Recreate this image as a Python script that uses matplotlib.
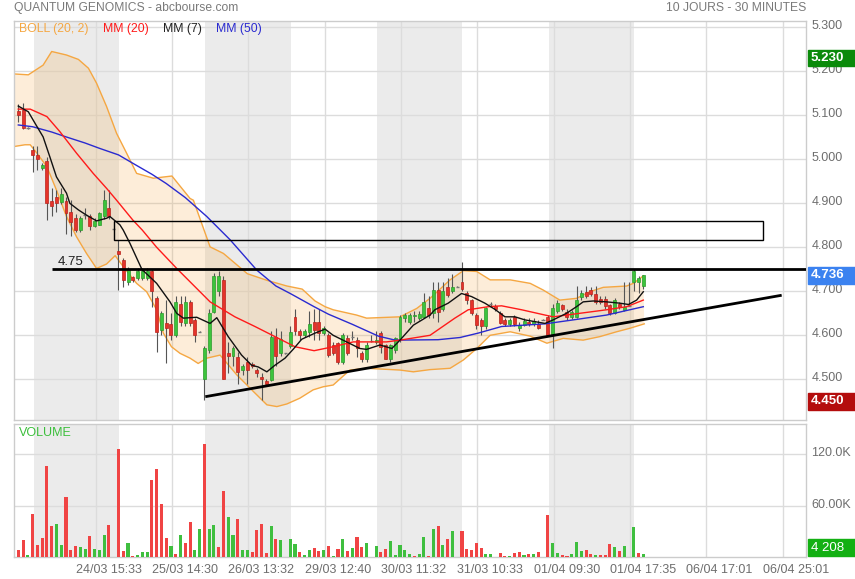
import numpy as np
import matplotlib
matplotlib.use("Agg")
import matplotlib.pyplot as plt
from matplotlib.patches import Rectangle
from matplotlib.transforms import blended_transform_factory, ScaledTranslation

plt.rcParams["font.family"] = ["Liberation Sans", "DejaVu Sans"]

# ---- 30 minute bars (oldest first) ----
opens = [5.110, 5.111, 5.070, 5.021, 5.010, 4.980, 4.996, 4.905, 4.914, 4.903,
         4.905, 4.881, 4.867, 4.839, 4.872, 4.870, 4.848, 4.851, 4.870, 4.889,
         4.842, 4.791, 4.770, 4.722, 4.732, 4.730, 4.731, 4.731, 4.745, 4.684,
         4.612, 4.627, 4.625, 4.600, 4.671, 4.627, 4.676, 4.635, 4.608, 4.500,
         4.566, 4.654, 4.700, 4.726, 4.560, 4.552, 4.550, 4.522, 4.540, 4.535,
         4.520, 4.505, 4.497, 4.498, 4.597, 4.559, 4.559, 4.576, 4.642, 4.610,
         4.600, 4.607, 4.630, 4.631, 4.605, 4.600, 4.578, 4.582, 4.540, 4.593,
         4.594, 4.590, 4.560, 4.545, 4.586, 4.585, 4.605, 4.578, 4.545, 4.566,
         4.590, 4.640, 4.630, 4.643, 4.640, 4.642, 4.662, 4.650, 4.703, 4.660,
         4.710, 4.700, 4.710, 4.722, 4.696, 4.680, 4.646, 4.635, 4.620, 4.668,
         4.667, 4.650, 4.635, 4.626, 4.642, 4.617, 4.624, 4.630, 4.626, 4.626,
         4.635, 4.642, 4.600, 4.656, 4.668, 4.654, 4.641, 4.642, 4.686, 4.699,
         4.704, 4.694, 4.682, 4.683, 4.669, 4.651, 4.671, 4.658, 4.667, 4.720,
         4.720, 4.712]
highs = [5.125, 5.127, 5.073, 5.030, 5.030, 4.992, 5.005, 4.935, 4.930, 4.935,
         4.914, 4.907, 4.875, 4.870, 4.890, 4.876, 4.866, 4.880, 4.930, 4.930,
         4.843, 4.817, 4.776, 4.755, 4.735, 4.752, 4.752, 4.752, 4.750, 4.690,
         4.655, 4.680, 4.650, 4.690, 4.690, 4.690, 4.680, 4.640, 4.609, 4.575,
         4.660, 4.741, 4.745, 4.735, 4.585, 4.575, 4.563, 4.535, 4.550, 4.540,
         4.525, 4.515, 4.500, 4.610, 4.617, 4.610, 4.560, 4.620, 4.660, 4.615,
         4.615, 4.655, 4.660, 4.660, 4.620, 4.605, 4.585, 4.585, 4.605, 4.600,
         4.610, 4.595, 4.565, 4.585, 4.600, 4.610, 4.610, 4.580, 4.580, 4.595,
         4.645, 4.650, 4.650, 4.655, 4.655, 4.695, 4.690, 4.720, 4.720, 4.720,
         4.730, 4.740, 4.711, 4.767, 4.700, 4.682, 4.650, 4.640, 4.665, 4.675,
         4.670, 4.655, 4.640, 4.640, 4.645, 4.630, 4.640, 4.640, 4.640, 4.635,
         4.636, 4.645, 4.670, 4.680, 4.672, 4.660, 4.658, 4.713, 4.703, 4.713,
         4.710, 4.713, 4.690, 4.690, 4.672, 4.685, 4.675, 4.722, 4.720, 4.750,
         4.735, 4.738]
lows = [5.085, 5.068, 5.068, 4.971, 4.976, 4.976, 4.862, 4.870, 4.880, 4.898,
        4.830, 4.825, 4.835, 4.835, 4.865, 4.840, 4.845, 4.850, 4.865, 4.865,
        4.841, 4.703, 4.710, 4.715, 4.720, 4.726, 4.725, 4.725, 4.665, 4.563,
        4.600, 4.536, 4.590, 4.595, 4.620, 4.620, 4.620, 4.585, 4.607, 4.452,
        4.560, 4.650, 4.690, 4.500, 4.514, 4.530, 4.490, 4.510, 4.490, 4.525,
        4.505, 4.453, 4.488, 4.495, 4.530, 4.552, 4.558, 4.570, 4.600, 4.590,
        4.595, 4.595, 4.590, 4.590, 4.600, 4.550, 4.555, 4.535, 4.535, 4.555,
        4.590, 4.550, 4.540, 4.540, 4.585, 4.580, 4.560, 4.545, 4.540, 4.560,
        4.585, 4.630, 4.625, 4.630, 4.635, 4.640, 4.640, 4.640, 4.630, 4.655,
        4.688, 4.695, 4.709, 4.700, 4.670, 4.645, 4.615, 4.600, 4.615, 4.665,
        4.655, 4.625, 4.620, 4.620, 4.620, 4.610, 4.620, 4.620, 4.620, 4.615,
        4.634, 4.600, 4.571, 4.650, 4.655, 4.635, 4.636, 4.640, 4.680, 4.685,
        4.690, 4.670, 4.672, 4.660, 4.645, 4.648, 4.660, 4.655, 4.666, 4.700,
        4.695, 4.705]
closes = [5.100, 5.071, 5.072, 5.010, 5.000, 4.987, 4.900, 4.894, 4.900, 4.921,
          4.878, 4.858, 4.839, 4.867, 4.874, 4.848, 4.860, 4.878, 4.907, 4.870,
          4.842, 4.785, 4.726, 4.750, 4.726, 4.747, 4.747, 4.747, 4.700, 4.608,
          4.650, 4.616, 4.600, 4.675, 4.631, 4.676, 4.627, 4.600, 4.608, 4.570,
          4.650, 4.735, 4.735, 4.500, 4.553, 4.570, 4.517, 4.531, 4.520, 4.530,
          4.515, 4.500, 4.490, 4.597, 4.552, 4.591, 4.559, 4.608, 4.610, 4.600,
          4.610, 4.626, 4.612, 4.605, 4.617, 4.555, 4.560, 4.540, 4.600, 4.559,
          4.596, 4.570, 4.545, 4.579, 4.586, 4.590, 4.573, 4.545, 4.578, 4.593,
          4.642, 4.646, 4.646, 4.646, 4.648, 4.676, 4.645, 4.703, 4.653, 4.700,
          4.692, 4.710, 4.710, 4.705, 4.680, 4.650, 4.624, 4.621, 4.661, 4.670,
          4.660, 4.629, 4.626, 4.635, 4.626, 4.624, 4.633, 4.626, 4.632, 4.617,
          4.635, 4.600, 4.661, 4.674, 4.660, 4.642, 4.654, 4.680, 4.695, 4.690,
          4.694, 4.675, 4.676, 4.667, 4.650, 4.680, 4.665, 4.665, 4.667, 4.745,
          4.730, 4.736]

# volume in thousands, with the colour of each bar (u = green, d = red)
volumes = [7.7, 20.0, 2.7, 50.6, 14.4, 22.5, 106.0, 35.8, 38.0, 13.6,
           70.5, 8.5, 12.4, 11.2, 8.9, 24.0, 8.9, 7.7, 25.3, 37.8,
           0.0, 125.5, 6.5, 16.7, 1.5, 2.7, 5.4, 5.4, 89.6, 102.5,
           62.3, 22.5, 12.8, 3.8, 26.0, 16.7, 40.9, 7.7, 32.3, 131.7,
           32.3, 36.8, 11.2, 76.7, 47.1, 25.3, 44.8, 8.5, 7.7, 6.2,
           31.1, 38.1, 4.6, 36.1, 21.4, 20.2, 0.0, 21.4, 15.5, 5.8,
           2.7, 7.7, 10.9, 6.5, 8.5, 13.2, 0.7, 9.3, 20.6, 6.9,
           10.5, 23.3, 11.2, 16.7, 0.0, 13.2, 5.8, 8.9, 18.6, 1.9,
           14.4, 8.1, 3.4, 1.2, 3.4, 22.9, 1.5, 33.1, 35.8, 13.6,
           21.4, 30.0, 0.0, 30.8, 9.3, 8.1, 15.9, 10.5, 3.8, 3.0,
           0.0, 4.2, 1.1, 0.8, 4.2, 6.2, 1.9, 3.0, 3.8, 5.4,
           0.0, 49.5, 15.9, 4.6, 1.9, 1.1, 3.0, 17.9, 7.0, 8.1,
           3.4, 2.7, 2.3, 2.3, 14.7, 11.6, 7.0, 12.8, 0.0, 34.6,
           4.6, 3.8]
vol_dir = ("dduddddduu" "ddduuduuud" "ddduduuudd" "ddududduud"
           "uudduuduud" "dddududuud" "uuddududud" "uddududduu"
           "uuuduududu" "dudddddduu" "ddduddudud" "dduudduuud"
           "dudddududu" "du")

# indicator lines, sampled along the curves (bar index, price)
mm7_x = [0, 2.1, 3.5, 5.2, 6.6, 8.0, 10.1, 10.8, 12.6, 14.3, 16.4, 18.5, 19.2, 21.3,
         22.0, 23.4, 25.9, 29.0, 31.8, 33.2, 34.6, 37.4, 40.2, 41.6, 44.0, 46.8,
         48.9, 50.3, 52.1, 53.8, 55.9, 57.6, 59.4, 62.2, 64.3, 66.0, 68.8, 71.6,
         73.0, 75.8, 78.3, 80.0, 82.8, 86.3, 87.3, 90.1, 92.9, 95.0, 97.8, 99.9,
         102.0, 104.1, 106.2, 108.3, 110.4, 112.1, 114.9, 117.0, 118.4, 120.5,
         123.3, 126.1, 127.9, 129.6, 131.0]
mm7_y = [5.121, 5.108, 5.082, 5.051, 5.006, 4.960, 4.923, 4.900, 4.885, 4.873, 4.860,
         4.866, 4.870, 4.851, 4.839, 4.809, 4.750, 4.718, 4.676, 4.650, 4.639, 4.641,
         4.627, 4.640, 4.597, 4.555, 4.532, 4.528, 4.517, 4.532, 4.548, 4.568, 4.591,
         4.605, 4.614, 4.600, 4.585, 4.570, 4.568, 4.578, 4.570, 4.589, 4.623, 4.646,
         4.658, 4.673, 4.695, 4.688, 4.673, 4.659, 4.642, 4.642, 4.635, 4.631, 4.627,
         4.635, 4.650, 4.665, 4.676, 4.678, 4.676, 4.673, 4.670, 4.680, 4.699]
mm20_x = [0, 2.5, 6.0, 8.7, 12.2, 15.7, 18.5, 20.6, 24.0, 26.0, 29.0, 33.2, 36.7,
          40.2, 45.4, 49.6, 53.8, 58.0, 62.0, 66.0, 70.2, 77.2, 80.0, 86.3, 91.5,
          94.3, 98.5, 101.3, 105.5, 110.4, 112.1, 116.3, 123.3, 127.5, 131.0]
mm20_y = [5.114, 5.114, 5.097, 5.063, 5.014, 4.968, 4.934, 4.907, 4.862, 4.839,
          4.800, 4.752, 4.714, 4.676, 4.642, 4.620, 4.597, 4.574, 4.565, 4.574,
          4.585, 4.585, 4.589, 4.600, 4.639, 4.658, 4.665, 4.667, 4.658, 4.646,
          4.642, 4.648, 4.658, 4.665, 4.680]
mm50_x = [0, 3, 7, 10, 14, 17, 21, 24, 28, 31, 35, 39.5, 44.4, 50, 54, 57, 62, 65,
          70, 75.5, 79, 88, 92.6, 96.4, 101.3, 110.4, 116.3, 123.3, 131]
mm50_y = [5.078, 5.074, 5.062, 5.051, 5.037, 5.025, 5.010, 4.991, 4.966, 4.945,
          4.913, 4.870, 4.817, 4.748, 4.712, 4.695, 4.665, 4.648, 4.625, 4.598,
          4.589, 4.590, 4.595, 4.605, 4.620, 4.626, 4.635, 4.646, 4.665]
boll_up_x = [-0.9, 2.1, 5.2, 7.0, 10.1, 12.6, 14.7, 16.4, 18.5, 20.6, 22.7, 24.8,
             28.3, 32.2, 36.0, 36.7, 40.2, 43.0, 48.0, 52.1, 56.3, 59.5, 62.2,
             64.3, 66.0, 70.9, 73.0, 80.0, 83.5, 86.3, 90.5, 93.3, 96.1, 98.9,
             103.1, 107.3, 110.0, 113.5, 117.0, 119.8, 122.6, 127.5, 128.9, 131.0]
boll_up_y = [5.194, 5.192, 5.214, 5.245, 5.237, 5.227, 5.207, 5.173, 5.120, 5.059,
             5.014, 4.968, 4.957, 4.962, 4.911, 4.907, 4.801, 4.786, 4.740, 4.725,
             4.712, 4.705, 4.678, 4.665, 4.658, 4.646, 4.639, 4.642, 4.661, 4.684,
             4.726, 4.747, 4.745, 4.726, 4.726, 4.718, 4.703, 4.680, 4.684, 4.699,
             4.709, 4.712, 4.718, 4.735]
boll_lo_x = [-0.9, 1.4, 2.5, 3.9, 6.0, 8.0, 10.1, 12.2, 14.3, 16.4, 18.5, 20.3,
             22.0, 24.8, 26.9, 29.0, 30.4, 32.1, 33.9, 36.0, 37.7, 39.5, 42.3,
             45.8, 49.3, 52.1, 54.2, 56.3, 59.0, 61.8, 63.9, 66.0, 69.5, 73.0,
             80.0, 82.8, 86.3, 90.5, 93.3, 96.1, 98.9, 103.1, 107.3, 110.8, 114.2,
             118.4, 121.9, 125.4, 128.2, 131.2]
boll_lo_y = [5.029, 5.033, 5.033, 5.014, 4.983, 4.930, 4.870, 4.824, 4.786, 4.752,
             4.762, 4.781, 4.756, 4.718, 4.699, 4.658, 4.605, 4.574, 4.559, 4.548,
             4.536, 4.548, 4.555, 4.510, 4.472, 4.442, 4.438, 4.444, 4.457, 4.476,
             4.483, 4.487, 4.521, 4.525, 4.521, 4.517, 4.522, 4.525, 4.544, 4.570,
             4.600, 4.608, 4.598, 4.582, 4.593, 4.589, 4.597, 4.608, 4.616, 4.626]

x_labels = ["24/03 15:33", "25/03 14:30", "26/03 13:32", "29/03 12:40", "30/03 11:32",
            "31/03 10:33", "01/04 09:30", "01/04 17:35", "06/04 17:01", "06/04 25:01"]
price_ticks = [4.5, 4.6, 4.7, 4.8, 4.9, 5.0, 5.1, 5.2, 5.3]
vol_ticks = [60, 120]
vol_tick_labels = ["60.00K", "120.0K"]

# drawn objects: resistance 4.75, zone box, rising support line
resistance = 4.75
zone_x = (20.1, 156.1)
zone_y = (4.816, 4.8605)
support_x = [39.2, 160.0]
support_y = [4.4605, 4.691]
last_price, day_high, day_low, last_vol = 4.736, 5.230, 4.450, 4208

# ---- layout ----
W, H = 855, 579
fig = plt.figure(figsize=(W / 100, H / 100), dpi=100)


def px_axes(left, top, right, bottom, **kw):
    return fig.add_axes([left / W, 1 - bottom / H, (right - left) / W, (bottom - top) / H], **kw)


ax = px_axes(14, 21, 806, 420)
axv = px_axes(14, 424, 806, 557, sharex=ax)

GRID = "#dcdcdc"
DAYBAND = "#ebebeb"
TXT = "#6e6e6e"

n = len(opens)
idx = np.arange(n)
xmin, xmax = -0.9, 165.1
for a in (ax, axv):
    a.set_xlim(xmin, xmax)
    for s in a.spines.values():
        s.set_color("#cccccc")
        s.set_linewidth(1)
    # alternate day shading
    for start in np.arange(3.2, 120, 36.0):
        a.axvspan(start, start + 17.9, color=DAYBAND, lw=0, zorder=0)
    for gx in 16.2 + 16.0 * np.arange(len(x_labels)):
        a.axvline(gx, color=GRID, lw=1, zorder=0.5)

# ---- price panel ----
ax.set_ylim(4.4075, 5.3143)
for p in price_ticks:
    ax.axhline(p, color=GRID, lw=1, zorder=0.5)
ax.yaxis.tick_right()
ax.set_yticks(price_ticks)
ax.set_yticklabels([f"{p:.3f}" for p in price_ticks])
ax.tick_params(axis="y", length=0, pad=4, labelsize=9, labelcolor=TXT)
ax.tick_params(axis="x", length=0, labelbottom=False)
for lab in ax.get_yticklabels():
    lab.set_transform(lab.get_transform() + ScaledTranslation(0, 3 / 100, fig.dpi_scale_trans))

# bollinger envelope
poly_x = boll_up_x + boll_lo_x[::-1]
poly_y = boll_up_y + boll_lo_y[::-1]
ax.fill(poly_x, poly_y, color="#f5a742", alpha=0.2, lw=0, zorder=1)
ax.plot(boll_up_x, boll_up_y, color="#f5a742", lw=1, zorder=2)
ax.plot(boll_lo_x, boll_lo_y, color="#f5a742", lw=1, zorder=2)

# candles
o, h, l, c = (np.array(v) for v in (opens, highs, lows, closes))
ax.vlines(idx, l, h, color="#555555", lw=0.8, zorder=3)
body_lo = np.minimum(o, c)
body_h = np.abs(c - o)
doji = body_h < 0.002
up = (c > o) & ~doji
down = (c < o) & ~doji
ax.bar(idx[up], body_h[up], bottom=body_lo[up], width=0.62,
       color="#3cc43c", edgecolor="#2c9a2c", lw=0.5, zorder=4)
ax.bar(idx[down], body_h[down], bottom=body_lo[down], width=0.62,
       color="#e5332a", edgecolor="#b8231c", lw=0.5, zorder=4)
ax.hlines(c[doji], idx[doji] - 0.35, idx[doji] + 0.35, color="#777777", lw=1, zorder=4)

# moving averages
ax.plot(mm50_x, mm50_y, color="#2a2ad0", lw=1, zorder=5)
ax.plot(mm20_x, mm20_y, color="#ff1a1a", lw=1, zorder=5)
ax.plot(mm7_x, mm7_y, color="#111111", lw=1, zorder=5)

# drawings
ax.hlines(resistance, 7.1, xmax, color="black", lw=2, zorder=6)
ax.text(8.2, resistance + 0.004, f"{resistance:.2f}", fontsize=9.5, color="#222222",
        ha="left", va="bottom", zorder=6)
ax.add_patch(Rectangle((zone_x[0], zone_y[0]), zone_x[1] - zone_x[0], zone_y[1] - zone_y[0],
                       fill=False, ec="black", lw=1, zorder=6))
ax.plot(support_x, support_y, color="black", lw=2, zorder=6, solid_capstyle="butt")

# legend text
legend = [("BOLL (20, 2)", "#f5a742", 19), ("MM (20)", "#ff1a1a", 103),
          ("MM (7)", "#222222", 163), ("MM (50)", "#2a2ad0", 216)]
for label, col, xp in legend:
    fig.text(xp / W, 1 - 29 / H, label, color=col, fontsize=8.8, va="center", ha="left")

# price flags on the right
tr = blended_transform_factory(fig.transFigure, ax.transData)
h_box = 16.7 / 440.0
for val, col in ((day_high, "#0a8a0a"), (last_price, "#3b82f0"), (day_low, "#b40d0d")):
    ax.add_patch(Rectangle((808 / W, val - h_box / 2), 47 / W, h_box, transform=tr,
                           color=col, clip_on=False, zorder=10))
    ax.text(811 / W, val, f"{val:.3f}", transform=tr, color="white", fontsize=9.5,
            fontweight="bold", va="center", ha="left", clip_on=False, zorder=11)

# ---- volume panel ----
vol = np.array(volumes)
vcol = ["#3fbf3f" if d == "u" else "#f04444" for d in vol_dir]
axv.bar(idx, vol, width=0.65, color=vcol, lw=0, zorder=3)
axv.set_ylim(0, 155.2)
for v in vol_ticks:
    axv.axhline(v, color=GRID, lw=1, zorder=0.5)
axv.yaxis.tick_right()
axv.set_yticks(vol_ticks)
axv.set_yticklabels(vol_tick_labels)
axv.tick_params(axis="y", length=0, pad=4, labelsize=9, labelcolor=TXT)
for lab in axv.get_yticklabels():
    lab.set_transform(lab.get_transform() + ScaledTranslation(0, 2.5 / 100, fig.dpi_scale_trans))
axv.set_xticks(16.2 + 2.75 + 16.0 * np.arange(len(x_labels)))
axv.set_xticklabels(x_labels)
axv.tick_params(axis="x", length=0, pad=5, labelsize=9, labelcolor=TXT)
axv.text(0.006, 0.93, "VOLUME", transform=axv.transAxes, color="#3cbf3c", fontsize=9,
         va="center", ha="left")

trv = blended_transform_factory(fig.transFigure, axv.transData)
axv.add_patch(Rectangle((808 / W, 1.0), 47 / W, 19.6, transform=trv, color="#13b013",
                        clip_on=False, zorder=10))
axv.text(811 / W, 10.8, f"{last_vol:,d}".replace(",", " "), transform=trv,
         color="white", fontsize=9.5, va="center", ha="left", clip_on=False, zorder=11)

# ---- titles ----
fig.text(14 / W, 1 - 8 / H, "QUANTUM GENOMICS - abcbourse.com", color="#7a7a7a",
         fontsize=8.7, va="center", ha="left")
fig.text(806 / W, 1 - 8 / H, "10 JOURS - 30 MINUTES", color="#7a7a7a",
         fontsize=8.7, va="center", ha="right")

fig.savefig("out.png", dpi=100, facecolor="white")
